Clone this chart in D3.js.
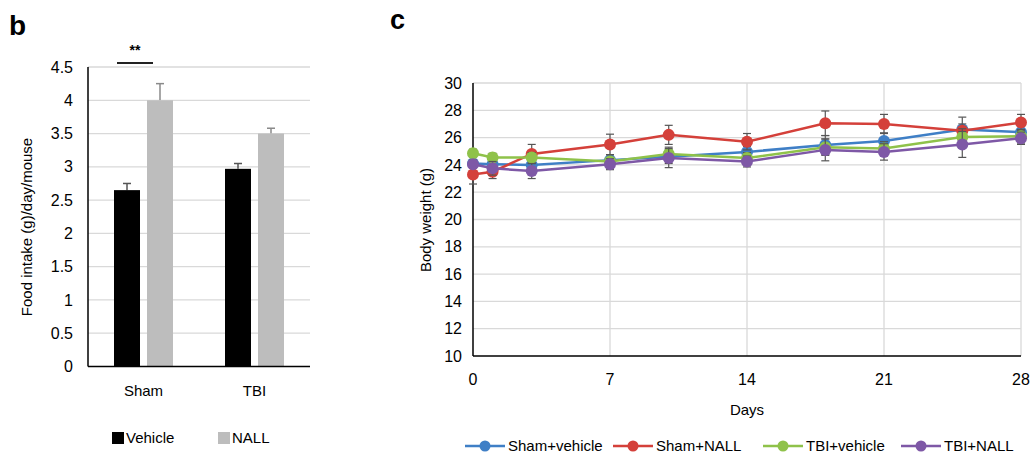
<!DOCTYPE html>
<html>
<head>
<meta charset="utf-8">
<script src="https://cdn.jsdelivr.net/npm/d3@7"></script>
<style>
  body { margin: 0; background: #fff; }
  svg { font-family: "Liberation Sans", Arial, sans-serif; }
</style>
</head>
<body>
<div id="svg-area"></div>
<script>
// Panel b data
var groups = ['Sham', 'TBI'];
var treatments = ['Vehicle', 'NALL'];
var intakeVehicle = [2.65, 2.97];
var intakeNALL = [4.0, 3.5];
var intakeVehicleErr = [0.1, 0.08];
var intakeNALLErr = [0.25, 0.08];
var intakeTicks = [0, 0.5, 1, 1.5, 2, 2.5, 3, 3.5, 4, 4.5];

// Panel c data
var days = [0, 1, 3, 7, 10, 14, 18, 21, 25, 28];
var seriesNames = ['Sham+vehicle', 'Sham+NALL', 'TBI+vehicle', 'TBI+NALL'];
var shamVehicle = [24.1, 24.05, 24.0, 24.35, 24.6, 24.95, 25.45, 25.75, 26.6, 26.4];
var shamNALL = [23.3, 23.5, 24.8, 25.5, 26.2, 25.7, 27.05, 27.0, 26.5, 27.1];
var tbiVehicle = [24.85, 24.55, 24.55, 24.25, 24.8, 24.5, 25.3, 25.2, 26.05, 26.1];
var tbiNALL = [24.05, 23.75, 23.55, 24.05, 24.5, 24.25, 25.1, 24.95, 25.5, 25.95];
var shamVehicleErr = [0.3, 0.3, 0.35, 0.4, 0.5, 0.4, 0.7, 0.6, 0.9, 0.4];
var shamNALLErr = [0.7, 0.5, 0.7, 0.75, 0.7, 0.6, 0.9, 0.7, 0.5, 0.6];
var tbiVehicleErr = [0.3, 0.3, 0.35, 0.5, 0.5, 0.4, 0.6, 0.5, 0.6, 0.5];
var tbiNALLErr = [0.3, 0.5, 0.55, 0.4, 0.7, 0.4, 0.8, 0.6, 0.95, 0.45];
var dayTicks = [0, 7, 14, 21, 28];
var weightTicks = [10, 12, 14, 16, 18, 20, 22, 24, 26, 28, 30];

var seriesColors = ['#3f7fc6', '#d4403a', '#8fc24a', '#7e58a6'];
var gridColor = '#d9d9d9';

var svg = d3.select('#svg-area').append('svg')
  .attr('width', 1032)
  .attr('height', 458);

// ---------- panel b ----------
var x0 = d3.scaleBand().domain(groups).range([88, 310]);
var x1 = d3.scaleBand().domain(treatments).range([-29.5, 29.5]).paddingInner(0.2121);
var yB = d3.scaleLinear().domain([0, 4.5]).range([366.5, 67]);

var gb = svg.append('g');

gb.selectAll('line.grid')
  .data(intakeTicks.slice(1))
  .enter().append('line')
  .attr('class', 'grid')
  .attr('x1', 88).attr('x2', 310)
  .attr('y1', function(d){ return yB(d); })
  .attr('y2', function(d){ return yB(d); })
  .attr('stroke', gridColor).attr('stroke-width', 1.3);

gb.selectAll('text.ytick')
  .data(intakeTicks)
  .enter().append('text')
  .attr('class', 'ytick')
  .attr('x', 73)
  .attr('y', function(d){ return yB(d); })
  .attr('dy', '0.35em')
  .attr('text-anchor', 'end')
  .attr('font-size', 16)
  .text(function(d){ return String(d); });

var barData = [];
groups.forEach(function(g, i){
  barData.push({ group: g, t: 'Vehicle', v: intakeVehicle[i], e: intakeVehicleErr[i], fill: '#000', err: '#555' });
  barData.push({ group: g, t: 'NALL', v: intakeNALL[i], e: intakeNALLErr[i], fill: '#bdbdbd', err: '#8a8a8a' });
});

function barCenter(d){ return x0(d.group) + x0.bandwidth() / 2 + x1(d.t) + x1.bandwidth() / 2; }

gb.selectAll('line.err')
  .data(barData)
  .enter().append('line')
  .attr('class', 'err')
  .attr('x1', barCenter).attr('x2', barCenter)
  .attr('y1', function(d){ return yB(d.v); })
  .attr('y2', function(d){ return yB(d.v + d.e); })
  .attr('stroke', function(d){ return d.err; }).attr('stroke-width', 1.5);

gb.selectAll('line.cap')
  .data(barData)
  .enter().append('line')
  .attr('class', 'cap')
  .attr('x1', function(d){ return barCenter(d) - 4; })
  .attr('x2', function(d){ return barCenter(d) + 4; })
  .attr('y1', function(d){ return yB(d.v + d.e); })
  .attr('y2', function(d){ return yB(d.v + d.e); })
  .attr('stroke', function(d){ return d.err; }).attr('stroke-width', 1.5);

gb.selectAll('rect.bar')
  .data(barData)
  .enter().append('rect')
  .attr('class', 'bar')
  .attr('x', function(d){ return barCenter(d) - x1.bandwidth() / 2; })
  .attr('width', x1.bandwidth())
  .attr('y', function(d){ return yB(d.v); })
  .attr('height', function(d){ return yB(0) - yB(d.v); })
  .attr('fill', function(d){ return d.fill; });

// axes lines
gb.append('line').attr('x1', 88).attr('x2', 88).attr('y1', yB(4.5)).attr('y2', yB(0))
  .attr('stroke', '#000').attr('stroke-width', 1.5);
gb.append('line').attr('x1', 88).attr('x2', 310).attr('y1', yB(0)).attr('y2', yB(0))
  .attr('stroke', '#000').attr('stroke-width', 1.5);

gb.selectAll('text.xcat')
  .data(groups)
  .enter().append('text')
  .attr('class', 'xcat')
  .attr('x', function(d){ return x0(d) + x0.bandwidth() / 2; })
  .attr('y', 396)
  .attr('text-anchor', 'middle')
  .attr('font-size', 15)
  .text(function(d){ return d; });

gb.append('text')
  .attr('transform', 'translate(32,227)rotate(-90)')
  .attr('text-anchor', 'middle')
  .attr('font-size', 15)
  .text('Food intake (g)/day/mouse');

// significance
gb.append('line').attr('x1', 117).attr('x2', 153).attr('y1', 63).attr('y2', 63)
  .attr('stroke', '#222').attr('stroke-width', 2);
gb.append('text').attr('x', 135).attr('y', 55).attr('text-anchor', 'middle')
  .attr('font-size', 14).attr('font-weight', 'bold').text('**');

// legend b
var legB = gb.selectAll('g.legb')
  .data(treatments)
  .enter().append('g')
  .attr('class', 'legb')
  .attr('transform', function(d, i){ return 'translate(' + (112 + i * 106) + ',438)'; });
legB.append('rect').attr('x', 0).attr('y', -6).attr('width', 12).attr('height', 12)
  .attr('fill', function(d, i){ return i === 0 ? '#000' : '#bdbdbd'; });
legB.append('text').attr('x', 14).attr('dy', '0.35em').attr('font-size', 15)
  .text(function(d){ return d; });

svg.append('text').attr('x', 9).attr('y', 35).attr('font-size', 28).attr('font-weight', 'bold').text('b');

// ---------- panel c ----------
var xC = d3.scaleLinear().domain([0, 28]).range([473, 1021]);
var yC = d3.scaleLinear().domain([10, 30]).range([356, 83]);

var gc = svg.append('g');

gc.selectAll('line.hgrid')
  .data(weightTicks.slice(1))
  .enter().append('line')
  .attr('class', 'hgrid')
  .attr('x1', xC(0)).attr('x2', xC(28))
  .attr('y1', function(d){ return yC(d); })
  .attr('y2', function(d){ return yC(d); })
  .attr('stroke', gridColor).attr('stroke-width', 1.3);

gc.selectAll('line.vgrid')
  .data(dayTicks.slice(1))
  .enter().append('line')
  .attr('class', 'vgrid')
  .attr('x1', function(d){ return xC(d); })
  .attr('x2', function(d){ return xC(d); })
  .attr('y1', yC(30)).attr('y2', yC(10))
  .attr('stroke', gridColor).attr('stroke-width', 1.3);

gc.append('line').attr('x1', xC(0)).attr('x2', xC(0)).attr('y1', yC(30)).attr('y2', yC(10))
  .attr('stroke', '#000').attr('stroke-width', 1.5);
gc.append('line').attr('x1', xC(0)).attr('x2', xC(28)).attr('y1', yC(10)).attr('y2', yC(10))
  .attr('stroke', '#000').attr('stroke-width', 1.5);

gc.selectAll('text.ytick')
  .data(weightTicks)
  .enter().append('text')
  .attr('class', 'ytick')
  .attr('x', 462)
  .attr('y', function(d){ return yC(d); })
  .attr('dy', '0.35em')
  .attr('text-anchor', 'end')
  .attr('font-size', 16)
  .text(function(d){ return d; });

gc.selectAll('text.xtick')
  .data(dayTicks)
  .enter().append('text')
  .attr('class', 'xtick')
  .attr('x', function(d){ return xC(d); })
  .attr('y', 385)
  .attr('text-anchor', 'middle')
  .attr('font-size', 16)
  .text(function(d){ return d; });

gc.append('text').attr('x', 747).attr('y', 415).attr('text-anchor', 'middle')
  .attr('font-size', 15).text('Days');

gc.append('text')
  .attr('transform', 'translate(431,220)rotate(-90)')
  .attr('text-anchor', 'middle')
  .attr('font-size', 15)
  .text('Body weight (g)');

var seriesVals = [shamVehicle, shamNALL, tbiVehicle, tbiNALL];
var seriesErr = [shamVehicleErr, shamNALLErr, tbiVehicleErr, tbiNALLErr];
var series = seriesNames.map(function(n, i){
  return {
    name: n, color: seriesColors[i],
    pts: days.map(function(d, j){ return { d: d, v: seriesVals[i][j], e: seriesErr[i][j] }; })
  };
});

var line = d3.line().x(function(p){ return xC(p.d); }).y(function(p){ return yC(p.v); });

var sg = gc.selectAll('g.series')
  .data(series)
  .enter().append('g')
  .attr('class', 'series');

sg.each(function(s){
  var g = d3.select(this);
  g.selectAll('line.eb')
    .data(s.pts)
    .enter().append('line')
    .attr('class', 'eb')
    .attr('x1', function(p){ return xC(p.d); })
    .attr('x2', function(p){ return xC(p.d); })
    .attr('y1', function(p){ return yC(p.v - p.e); })
    .attr('y2', function(p){ return yC(p.v + p.e); })
    .attr('stroke', '#555').attr('stroke-width', 1.2);
  [-1, 1].forEach(function(sign){
    g.selectAll('line.cap' + sign)
      .data(s.pts)
      .enter().append('line')
      .attr('x1', function(p){ return xC(p.d) - 4; })
      .attr('x2', function(p){ return xC(p.d) + 4; })
      .attr('y1', function(p){ return yC(p.v + sign * p.e); })
      .attr('y2', function(p){ return yC(p.v + sign * p.e); })
      .attr('stroke', '#555').attr('stroke-width', 1.2);
  });
});

sg.append('path')
  .attr('d', function(s){ return line(s.pts); })
  .attr('fill', 'none')
  .attr('stroke', function(s){ return s.color; })
  .attr('stroke-width', 2.5);

sg.each(function(s){
  d3.select(this).selectAll('circle')
    .data(s.pts)
    .enter().append('circle')
    .attr('cx', function(p){ return xC(p.d); })
    .attr('cy', function(p){ return yC(p.v); })
    .attr('r', 6)
    .attr('fill', s.color);
});

// legend c
var legX = [465, 613, 763, 901];
var legC = gc.selectAll('g.legc')
  .data(series)
  .enter().append('g')
  .attr('class', 'legc')
  .attr('transform', function(d, i){ return 'translate(' + legX[i] + ',446)'; });
legC.append('line').attr('x1', 0).attr('x2', 40).attr('y1', 0).attr('y2', 0)
  .attr('stroke', function(d){ return d.color; }).attr('stroke-width', 2.5);
legC.append('circle').attr('cx', 20).attr('cy', 0).attr('r', 5.5)
  .attr('fill', function(d){ return d.color; });
legC.append('text').attr('x', 43).attr('dy', '0.35em').attr('font-size', 15)
  .text(function(d){ return d.name; });

svg.append('text').attr('x', 390).attr('y', 29).attr('font-size', 27).attr('font-weight', 'bold').text('c');
</script>
</body>
</html>
